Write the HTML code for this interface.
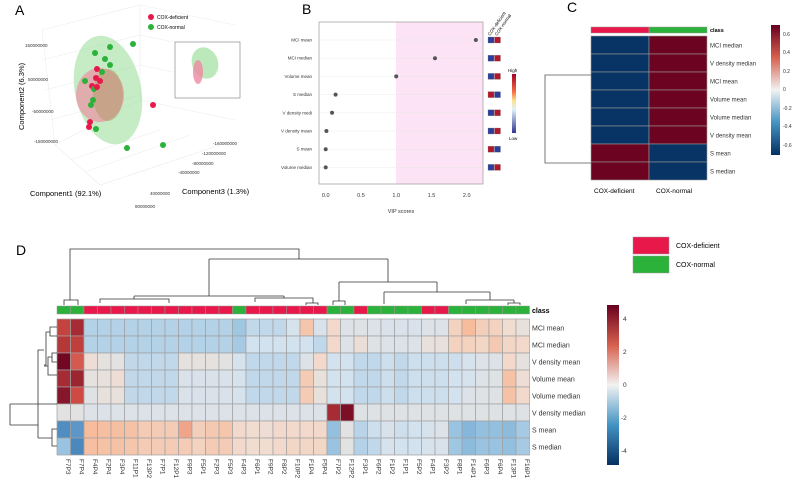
<!DOCTYPE html>
<html><head><meta charset="utf-8"><style>
body{margin:0;background:#fff;}
svg{display:block;font-family:"Liberation Sans",sans-serif;}
</style></head><body>
<svg id="fig" width="797" height="485" viewBox="0 0 797 485" xmlns="http://www.w3.org/2000/svg">
<!-- Panel A -->
<g>
<text x="15" y="15" font-size="14">A</text>
<g stroke="#ececec" stroke-width="0.6" fill="none">
<path d="M42 30 L140 5 L235 25 M42 30 L55 145 M140 5 L140 100 M55 145 L140 100 L235 120 M55 145 L100 185 L235 140 M42 60 L140 35 M45 90 L140 65 M50 120 L140 95 M140 35 L235 55 M140 65 L235 85 M70 160 L160 130 M85 172 L190 135"/>
</g>
<ellipse cx="108" cy="90" rx="33" ry="55" fill="#9fe09f" opacity="0.6" transform="rotate(-12 108 90)"/>
<ellipse cx="100" cy="95" rx="24" ry="27" fill="#ee8aa0" opacity="0.65"/>
<ellipse cx="108" cy="95" rx="15" ry="26" fill="#a89a60" opacity="0.45"/>
<g>
<circle cx="133" cy="44" r="3" fill="#2bb23a"/><circle cx="110" cy="47" r="3" fill="#2bb23a"/><circle cx="95" cy="53" r="3" fill="#2bb23a"/><circle cx="105" cy="59" r="3" fill="#2bb23a"/><circle cx="110" cy="65" r="3" fill="#2bb23a"/><circle cx="97" cy="69" r="3" fill="#e8184a"/><circle cx="102" cy="72" r="3" fill="#2bb23a"/><circle cx="96" cy="78" r="3" fill="#e8184a"/><circle cx="100" cy="81" r="3" fill="#e8184a"/><circle cx="85" cy="81" r="3" fill="#2bb23a"/><circle cx="92" cy="86" r="3" fill="#e8184a"/><circle cx="94" cy="89" r="3" fill="#2bb23a"/><circle cx="97" cy="87" r="3" fill="#e8184a"/><circle cx="93" cy="100" r="3" fill="#2bb23a"/><circle cx="91" cy="105" r="3" fill="#2bb23a"/><circle cx="153" cy="105" r="3" fill="#e8184a"/><circle cx="90" cy="122" r="3" fill="#e8184a"/><circle cx="89" cy="127" r="3" fill="#e8184a"/><circle cx="96" cy="129" r="3" fill="#2bb23a"/><circle cx="127" cy="148" r="3" fill="#2bb23a"/><circle cx="163" cy="145" r="3" fill="#2bb23a"/>
</g>
<g font-size="5">
<circle cx="151" cy="17" r="3" fill="#e8184a"/><text x="157" y="19">COX-deficient</text>
<circle cx="151" cy="27" r="3" fill="#2bb23a"/><text x="157" y="29">COX-normal</text>
</g>
<rect x="175" y="42" width="65" height="56" fill="#fff" stroke="#777" stroke-width="0.6"/>
<ellipse cx="205" cy="63" rx="13" ry="16" fill="#9fe09f" opacity="0.7" transform="rotate(-20 205 63)"/>
<ellipse cx="198" cy="72" rx="5" ry="12" fill="#ee8aa0" opacity="0.8"/>
<text x="24" y="130" font-size="7.5" transform="rotate(-90 24 130)">Component2 (6.3%)</text>
<text x="30" y="196" font-size="7.5">Component1 (92.1%)</text>
<text x="182" y="194" font-size="7.5">Component3 (1.3%)</text>
<g font-size="4.5" fill="#333">
<text x="25" y="47">150000000</text><text x="28" y="81">50000000</text><text x="32" y="113">-50000000</text><text x="34" y="143">-150000000</text>
<text x="213" y="145">-160000000</text><text x="202" y="155">-120000000</text><text x="192" y="165">-80000000</text><text x="178" y="174">-40000000</text><text x="150" y="195">40000000</text><text x="135" y="208">80000000</text>
</g>
</g>
<!-- Panel B -->
<g>
<text x="302" y="14" font-size="14">B</text>
<rect x="396" y="22" width="87" height="162" fill="#fce4f6"/>
<rect x="319" y="22" width="164" height="162" fill="none" stroke="#999" stroke-width="0.7"/>
<g id="vipg"></g>
<text x="401" y="213" font-size="5.5" text-anchor="middle" fill="#333">VIP scores</text>
<text x="490" y="36" font-size="4.5" transform="rotate(-55 490 36)">COX-deficient</text>
<text x="497" y="36" font-size="4.5" transform="rotate(-55 497 36)">COX-normal</text>
<defs><linearGradient id="gb" x1="0" y1="0" x2="0" y2="1"><stop offset="0" stop-color="#a50026"/><stop offset="0.3" stop-color="#f46d43"/><stop offset="0.45" stop-color="#fee090"/><stop offset="0.6" stop-color="#e0f3f8"/><stop offset="1" stop-color="#313695"/></linearGradient>
<linearGradient id="gc" x1="0" y1="0" x2="0" y2="1"><stop offset="0" stop-color="#67001f"/><stop offset="0.25" stop-color="#d6604d"/><stop offset="0.5" stop-color="#f2f2f2"/><stop offset="0.75" stop-color="#4393c3"/><stop offset="1" stop-color="#053061"/></linearGradient></defs>
<rect x="512" y="74" width="4" height="59" fill="url(#gb)"/>
<text x="508" y="72" font-size="4.5">High</text><text x="509" y="140" font-size="4.5">Low</text>
</g>
<!-- Panel C -->
<g>
<text x="567" y="12" font-size="14">C</text>
<g id="cg"></g>
<path d="M591 75 H545 V163 H591" fill="none" stroke="#555" stroke-width="0.8"/>
<text x="594" y="193" font-size="6.5">COX-deficient</text>
<text x="656" y="193" font-size="6.5">COX-normal</text>
<rect x="771" y="25" width="9" height="130" fill="url(#gc)"/>
<g font-size="5" fill="#333"><text x="783" y="36">0.6</text><text x="783" y="54">0.4</text><text x="783" y="73">0.2</text><text x="783" y="91">0</text><text x="783" y="110">-0.2</text><text x="783" y="128">-0.4</text><text x="783" y="147">-0.6</text></g>
</g>
<!-- Panel D -->
<g>
<text x="16" y="255" font-size="14">D</text>
<g id="dg"></g>
<g fill="none" stroke="#333" stroke-width="0.8">
<path d="M70 300 V249 H299 V259 M64 305 V300 H78 V305 M209 259 H388 M209 259 V296 M134 296 H284 M134 296 V299 M100 303 V299 H169 V303 M284 296 V298 M255 302 V298 H313 V303 M306 305 V303 H318 V305 M388 259 V282 M339 282 H437 M339 282 V301 M333 305 V301 H345 V305 M437 282 V292 M384 292 H490 M384 292 V304 M490 292 V300 M466 300 H514 M466 300 V304 M514 300 V303 M508 305 V303 H520 V305"/>
</g>
<g fill="none" stroke="#333" stroke-width="0.8">
<path d="M57 327 H50 V336 H57 M50 332 H46 V365 H44 M57 353 H52 V362 H57 M52 357 H48 V375 H57 M48 366 H44 M44 350 H38 V419 M57 404 H20 M57 429 H52 V446 H57 M52 438 H38 M38 419 V438 M38 425 H10 M10 404 V425 M20 404 H10"/>
</g>
<rect x="633" y="237" width="36" height="17" fill="#e8184a" stroke="#999" stroke-width="0.5"/>
<rect x="633" y="256" width="36" height="17" fill="#2bb23a" stroke="#999" stroke-width="0.5"/>
<text x="676" y="248" font-size="7">COX-deficient</text>
<text x="676" y="267" font-size="7">COX-normal</text>
<rect x="607" y="305" width="12" height="160" fill="url(#gc)"/>
<g font-size="6.5" fill="#333"><text x="623" y="321">4</text><text x="623" y="354">2</text><text x="623" y="387">0</text><text x="621" y="420">-2</text><text x="621" y="453">-4</text></g>
</g>
</svg>
<script>
// ---- Panel B data ----
const vipFeatures=["MCI mean","MCI median","Volume mean","S median","V density medi","V density mean","S mean","Volume median"];
const vipScores=[2.13,1.55,1.0,0.14,0.09,0.01,0.0,0.0];
const vipDeficientHigh=[0,0,0,1,0,0,1,0];
const vipTicks=[0,0.5,1.0,1.5,2.0];
// ---- Panel C data ----
const cRows=["MCI median","V density median","MCI mean","Volume mean","Volume median","V density mean","S mean","S median"];
const cDeficient=[-0.7,-0.7,-0.7,-0.7,-0.7,-0.7,0.7,0.7];
const cNormal=[0.7,0.7,0.7,0.7,0.7,0.7,-0.7,-0.7];
// ---- Panel D data ----
const dCols=["F7P3","F7P4","F4P4","F2P4","F3P4","F11P1","F13P2","F7P1","F12P1","F9P3","F5P1","F2P3","F5P3","F4P3","F6P1","F9P2","F8P2","F10P2","F1P4","F5P4","F7P2","F12P2","F3P1","F6P2","F1P2","F1P1","F5P2","F4P1","F3P2","F8P1","F14P1","F6P3","F6P4","F13P1","F16P1"];
const dClass=["N","N","D","D","D","D","D","D","D","D","D","D","D","N","D","D","D","D","D","D","N","N","D","N","N","N","N","D","D","N","N","N","N","N","N"];
const dRows=["MCI mean","MCI median","V density mean","Volume mean","Volume median","V density median","S mean","S median"];
const dRow0=[3.2,3.8,-1,-1,-1,-1,-1,-1,-1,-1,-1,-1,-1,-1.3,-0.8,-0.8,-0.8,-0.4,1.2,-0.3,0.6,-0.2,-0.1,-0.2,-0.3,-0.3,-0.3,-0.2,-0.2,0.8,1.5,0.9,0.8,0.5,0.2];
const dRow1=[3.5,3.3,-1,-1,-1,-1,-1,-1,-1,-1,-1,-1,-1,-1.2,-0.5,-0.5,-0.5,-0.5,-0.5,-0.8,0.6,-0.2,0.3,-0.1,-0.2,-0.2,-0.2,0.2,0.2,0.8,0.8,0.7,1.1,0.7,0.6];
const dRow2=[4.8,2.8,0.4,0.1,0,-0.8,-0.8,-0.8,-0.8,0.1,0.1,0.1,0,-0.4,-0.8,-0.8,-0.8,-0.8,-0.2,0.6,-0.5,-0.5,-0.8,-0.8,-0.6,-0.8,-0.6,-0.6,-0.6,-0.6,-0.4,-0.2,-0.2,0.6,0.1];
const dRow3=[3.8,4,0.1,0.2,0.4,-0.8,-0.8,-0.8,-0.8,-0.3,-0.3,-0.3,-0.3,-0.4,-0.8,-0.8,-0.8,-0.8,1.0,0.2,-0.5,-0.5,-0.8,-0.8,-0.6,-0.8,-0.6,-0.6,-0.6,-0.5,-0.4,-0.2,-0.1,1.3,0.4];
const dRow4=[4.4,3.0,-0.1,0.2,0.2,-0.8,-0.8,-0.8,-0.8,-0.3,-0.3,-0.3,-0.3,-0.4,-0.8,-0.8,-0.8,-0.8,1.0,0.2,-0.5,-0.5,-0.8,-0.8,-0.6,-0.8,-0.6,-0.6,-0.6,-0.5,-0.2,-0.1,-0.1,1.3,0.6];
const dRow5=[0,0,-0.2,-0.2,-0.2,-0.2,-0.2,-0.2,-0.2,-0.2,-0.2,-0.2,-0.2,-0.2,-0.2,-0.2,-0.2,-0.2,-0.2,-0.2,3.8,4.6,-0.1,-0.1,-0.1,-0.1,-0.1,-0.1,-0.1,-0.1,-0.1,-0.1,-0.1,-0.1,-0.1];
const dRow6=[-2.5,-2.3,1.5,1.4,1.4,1.3,1.0,1.0,1.0,1.8,0.9,1.1,1.2,0.6,0.5,0.4,0.6,0.6,0.6,0.6,-1.5,0,-0.9,-0.6,-0.3,-0.6,-0.5,-0.4,-0.2,-1.4,-1.7,-1.5,-1.5,-1.6,-1.2];
const dRow7=[-1.4,-2.6,1.4,1.3,1.3,1.2,1.0,1.0,1.0,1.0,0.8,1.0,1.0,0.6,0.5,0.5,0.6,0.7,0.7,0.7,-1.4,0,-1.0,-0.8,-0.4,-0.5,-0.5,-0.4,-0.3,-1.3,-1.6,-1.4,-1.4,-1.5,-1.2];
const dValues=[dRow0,dRow1,dRow2,dRow3,dRow4,dRow5,dRow6,dRow7];

const NS="http://www.w3.org/2000/svg";
function mk(tag,attrs,parent){const e=document.createElementNS(NS,tag);for(const k in attrs)e.setAttribute(k,attrs[k]);parent.appendChild(e);return e;}
function lerp(a,b,t){return Math.round(a+(b-a)*t);}
function hex(c){return [parseInt(c.slice(1,3),16),parseInt(c.slice(3,5),16),parseInt(c.slice(5,7),16)];}
const stops=[[-5,"#053061"],[-3,"#2f74b2"],[-1.5,"#93c0df"],[-0.5,"#d3e2ef"],[0,"#e2e2e2"],[0.5,"#f1dcd0"],[1.5,"#f7bc9c"],[3,"#cf4a42"],[5,"#67001f"]];
function colorScale(v){v=Math.max(-5,Math.min(5,v));for(let i=0;i<stops.length-1;i++){const [a,ca]=stops[i],[b,cb]=stops[i+1];if(v<=b){const t=(v-a)/(b-a),x=hex(ca),y=hex(cb);return `rgb(${lerp(x[0],y[0],t)},${lerp(x[1],y[1],t)},${lerp(x[2],y[2],t)})`;}}return "#67001f";}

// Panel B
const vg=document.getElementById('vipg');
const xS=v=>325.7+v*70.5, yS=i=>40+i*18.2;
vipTicks.forEach(t=>{
  const tx=mk('text',{x:xS(t),y:197,'font-size':5.5,'text-anchor':'middle',fill:'#333'},vg);tx.textContent=t.toFixed(1);
  
  
});
vipFeatures.forEach((f,i)=>{
  const y=yS(i);
  mk('line',{x1:320,x2:482,y1:y,y2:y,stroke:'#ddd','stroke-width':0.5,'stroke-dasharray':'1,1'},vg);
  const l=mk('text',{x:312,y:y+1.5,'font-size':4.5,'text-anchor':'end',fill:'#333'},vg);l.textContent=f;
  
  
  const c=mk('circle',{cx:xS(vipScores[i]),cy:y,r:2,fill:'#555'},vg);
  
  
  const hi=vipDeficientHigh[i];
  const b1=mk('rect',{x:488,y:y-3,width:6,height:6,fill:hi?'#b2182b':'#2c3e9a',stroke:'#888','stroke-width':0.3},vg);
  
  
  const b2=mk('rect',{x:494.5,y:y-3,width:6,height:6,fill:hi?'#2c3e9a':'#b2182b',stroke:'#888','stroke-width':0.3},vg);
  
  
});

// Panel C
const cg=document.getElementById('cg');
const cScale=v=>colorScale(v*7);
const cb1=mk('rect',{x:591,y:27,width:58,height:6,fill:'#e8184a',stroke:'#999','stroke-width':0.5},cg);


const cb2=mk('rect',{x:649,y:27,width:58,height:6,fill:'#2bb23a',stroke:'#999','stroke-width':0.5},cg);


const ct=mk('text',{x:710,y:32,'font-size':5.5,'font-weight':'bold'},cg);ct.textContent='class';


cRows.forEach((r,i)=>{
  const y=36+i*18;
  const a=mk('rect',{x:591,y:y,width:58,height:18,fill:cScale(cDeficient[i]),stroke:'#999','stroke-width':0.6},cg);
  
  
  const b=mk('rect',{x:649,y:y,width:58,height:18,fill:cScale(cNormal[i]),stroke:'#999','stroke-width':0.6},cg);
  
  
  const t=mk('text',{x:710,y:y+11.5,'font-size':6,fill:'#333'},cg);t.textContent=r;
  
  
});

// Panel D
const dg=document.getElementById('dg');
const cw=13.5, rh=17, x0=57, y0=319;
dCols.forEach((c,j)=>{
  const x=x0+j*cw;
  const cr=mk('rect',{x:x,y:306,width:cw,height:8,fill:dClass[j]==='N'?'#2bb23a':'#e8184a',stroke:'#999','stroke-width':0.5},dg);
  
  
  const t=mk('text',{x:x+cw/2+2,y:459,'font-size':6.5,fill:'#333',transform:`rotate(90 ${x+cw/2+2} 459)`},dg);
  t.textContent=c;
  
  
});
dRows.forEach((r,i)=>{
  const y=y0+i*rh;
  dValues[i].forEach((v,j)=>{
    const c=mk('rect',{x:x0+j*cw,y:y,width:cw,height:rh,fill:colorScale(v),stroke:'#a0a0a0','stroke-width':0.7},dg);
    
    
  });
  const t=mk('text',{x:532,y:y+11.5,'font-size':7,fill:'#333'},dg);t.textContent=r;
  
  
});
const dct=mk('text',{x:532,y:313,'font-size':7,'font-weight':'bold'},dg);dct.textContent='class';


</script>
</body></html>
